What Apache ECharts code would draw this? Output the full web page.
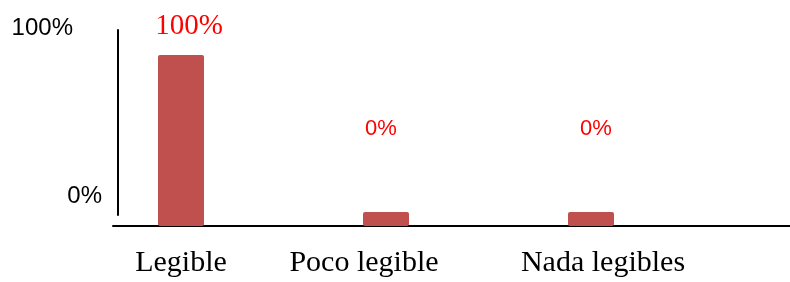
<!DOCTYPE html>
<html>
<head>
<meta charset="utf-8">
<script src="https://cdn.jsdelivr.net/npm/echarts@6/dist/echarts.min.js"></script>
<style>
  html, body { margin: 0; padding: 0; background: #fff; }
  #chart { width: 790px; height: 282px; }
</style>
</head>
<body>
<div id="chart"></div>
<script>
const categories = ["Legible", "Poco legible", "Nada legibles"]
const values = [100, 0, 0]
const yTicks = [0, 100]

const SERIF = "'Liberation Serif', 'Times New Roman', serif"
const SANS = "'Liberation Sans', Arial, sans-serif"

// etiquetas de valor: la primera en serif grande, las de 0% en sans mas arriba
const labelStyles = [
  { fontFamily: SERIF, fontSize: 29, distance: 14, offset: [8, 0] },
  { fontFamily: SANS, fontSize: 22, distance: 72, offset: [-5, 0] },
  { fontFamily: SANS, fontSize: 22, distance: 72, offset: [5, 0] }
]

const barData = values.map((v, i) => ({
  value: v,
  label: labelStyles[i]
}))

const myChart = echarts.init(document.getElementById("chart"))

myChart.setOption({
  backgroundColor: "#fff",
  animation: false,
  grid: [
    { left: 78.5, right: 96.5, top: 55, bottom: 56 },   // barras
    { left: 118, width: 10, top: 30, height: 185 },      // eje Y decorativo
    { left: 113, right: 0, top: 150, bottom: 56 }        // linea del eje X
  ],
  xAxis: [
    {
      type: "category", gridIndex: 0, data: categories,
      axisLine: { show: false }, axisTick: { show: false },
      axisLabel: {
        interval: 0, margin: 22, color: "#000",
        fontFamily: SERIF, fontSize: 30,
        formatter: (v, i) => "{c" + i + "|" + v + "}",
        rich: {
          c0: { fontFamily: SERIF, fontSize: 30, color: "#000" },
          c1: { fontFamily: SERIF, fontSize: 30, color: "#000", padding: [0, 44, 0, 0] },
          c2: { fontFamily: SERIF, fontSize: 30, color: "#000", padding: [0, 0, 0, 24] }
        }
      }
    },
    { type: "value", gridIndex: 1, show: false },
    {
      type: "value", gridIndex: 2,
      axisLine: { show: true, lineStyle: { color: "#000", width: 2 } },
      axisTick: { show: false }, axisLabel: { show: false }, splitLine: { show: false }
    }
  ],
  yAxis: [
    { type: "value", gridIndex: 0, min: 0, max: 100, show: false },
    {
      type: "value", gridIndex: 1, min: yTicks[0], max: yTicks[1], interval: 100,
      axisLine: { show: true, lineStyle: { color: "#000", width: 2 } },
      axisTick: { show: false }, splitLine: { show: false },
      axisLabel: {
        margin: 16, showMinLabel: true, showMaxLabel: true,
        formatter: v => v === 100 ? "{a|" + v + "%}" : "{b|" + v + "%}",
        rich: {
          a: { fontFamily: SANS, fontSize: 24, color: "#000", padding: [0, 29, 4, 0] },
          b: { fontFamily: SANS, fontSize: 24, color: "#000", padding: [0, 0, 38, 0] }
        }
      }
    },
    { type: "value", gridIndex: 2, show: false }
  ],
  series: [
    {
      type: "bar", xAxisIndex: 0, yAxisIndex: 0,
      data: barData,
      barWidth: 46,
      barMinHeight: 14,
      itemStyle: { color: "#C0504D", borderRadius: 2 },
      label: {
        show: true, position: "top", color: "#FF0000",
        formatter: p => p.value + "%"
      }
    }
  ]
})

window.addEventListener("resize", () => myChart && myChart.resize())
</script>
</body>
</html>
